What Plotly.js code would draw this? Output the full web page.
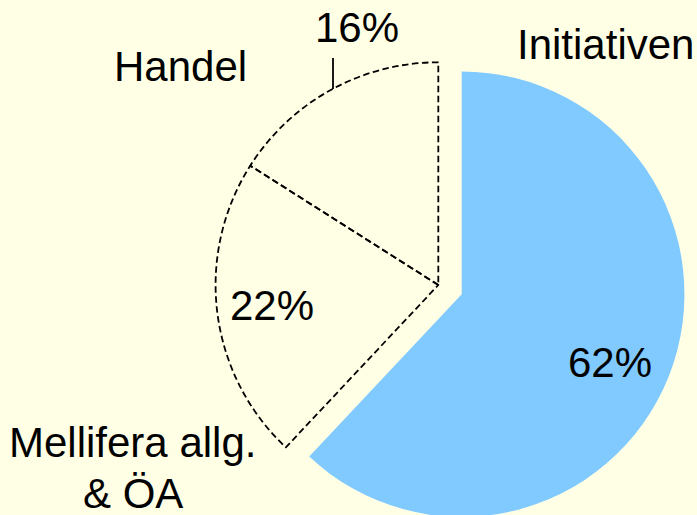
<!DOCTYPE html>
<html>
<head>
<meta charset="utf-8">
<script src="https://cdn.plot.ly/plotly-3.0.1.min.js"></script>
<style>
html, body { margin: 0; padding: 0; overflow: hidden; background: #FFFFE6; }
#chart { width: 697px; height: 570px; }
</style>
</head>
<body>
<div id="chart"></div>
<script>
// ---- data ----
const categories = ['Initiativen', 'Mellifera allg.<br>& ÖA', 'Handel'];
const shares = [62, 22, 16];

// ---- styling / layout helpers ----
const W = 697, H = 570;
const bg = '#FFFFE6';
const sliceColors = ['#80CAFF', 'rgba(0,0,0,0)', 'rgba(0,0,0,0)'];
const lineWidths = [0, 1.8, 1.8];
const pullOut = [0.113, 0, 0];
const dashA = 6.5, dashB = 3.5;
// label positions in pixels (centre of each text line)
const namePos = [[[605, 44]], [[132.5, 442.5], [133, 493.5]], [[180, 66]]];
const pctPos = [[610, 362.5], [272, 305], [357, 27.5]];
const fontFam = 'Liberation Sans, Arial, sans-serif';
const fs = 42;

const px = x => x / W;
const py = y => 1 - y / H;

const annotations = [];
categories.forEach((name, i) => {
  const lines = name.split('<br>');
  lines.forEach((ln, j) => {
    const p = namePos[i][j];
    annotations.push({
      text: ln, x: px(p[0]), y: py(p[1]), xref: 'paper', yref: 'paper',
      xanchor: 'center', yanchor: 'middle', showarrow: false,
      font: { family: fontFam, size: fs, color: '#000' }
    });
  });
  annotations.push({
    text: shares[i] + '%', x: px(pctPos[i][0]), y: py(pctPos[i][1]),
    xref: 'paper', yref: 'paper', xanchor: 'center', yanchor: 'middle',
    showarrow: false, font: { family: fontFam, size: fs, color: '#000' }
  });
});

const data = [{
  type: 'pie',
  labels: categories,
  values: shares,
  sort: false,
  direction: 'clockwise',
  rotation: 0,
  pull: pullOut,
  textinfo: 'none',
  hoverinfo: 'none',
  marker: { colors: sliceColors, line: { color: '#000', width: lineWidths } },
  domain: { x: [0.2732, 0.9845], y: [0, 1] },
  showlegend: false
}];

const layout = {
  width: W, height: H,
  margin: { l: 0, r: 0, t: 0, b: 0 },
  paper_bgcolor: bg, plot_bgcolor: bg,
  showlegend: false,
  annotations: annotations,
  shapes: [{
    type: 'line', xref: 'paper', yref: 'paper',
    x0: px(333), x1: px(333), y0: py(58), y1: py(89),
    line: { color: '#000', width: 1.8 }
  }]
};

Plotly.newPlot('chart', data, layout, { staticPlot: true }).then(gd => {
  const paths = gd.querySelectorAll('.pielayer .slice path.surface');
  const p = dashA + dashB;
  paths.forEach((el, i) => {
    if (i === 0) return;
    el.style.strokeDasharray = dashA + 'px,' + dashB + 'px';
    if (i === 1) {
      const L = el.getTotalLength();
      const o = (((dashA - L) % p) + p) % p;
      el.style.strokeDashoffset = o + 'px';
    }
  });
});
</script>
</body>
</html>
